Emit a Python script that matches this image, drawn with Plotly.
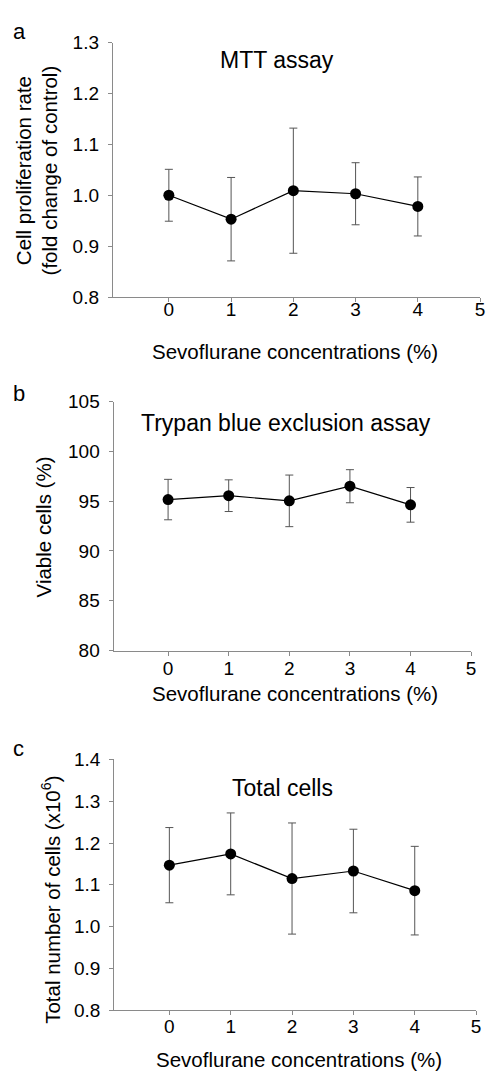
import plotly.graph_objects as go

W, H = 491, 1080

conc = [0, 1, 2, 3, 4]
x_ticks = [0, 1, 2, 3, 4, 5]

mtt_mean = [1.000, 0.953, 1.009, 1.003, 0.978]
mtt_err = [0.051, 0.082, 0.123, 0.061, 0.058]

trypan_mean = [95.16, 95.55, 95.03, 96.50, 94.63]
trypan_err = [2.03, 1.59, 2.59, 1.66, 1.74]

total_mean = [1.147, 1.174, 1.115, 1.133, 1.086]
total_err = [0.090, 0.098, 0.133, 0.100, 0.106]

FONT = "Liberation Sans, Arial, sans-serif"
AX_COL = "#8a8a8a"

fig = go.Figure()

series = [(mtt_mean, mtt_err, "x", "y"),
          (trypan_mean, trypan_err, "x2", "y2"),
          (total_mean, total_err, "x3", "y3")]
for mean, err, xa, ya in series:
    fig.add_trace(go.Scatter(
        x=conc, y=mean, xaxis=xa, yaxis=ya, mode="lines+markers",
        line=dict(color="black", width=1.2),
        marker=dict(color="black", size=11),
        error_y=dict(type="data", array=err, visible=True, color="#555555",
                     thickness=1, width=4),
        showlegend=False, cliponaxis=False))

def px_x(p):
    return p / W

def px_y(p):
    return 1 - p / H

def xaxis(dom, anchor, standoff):
    return dict(domain=dom, range=[-0.9, 5], tickvals=x_ticks, ticktext=[str(v) for v in x_ticks],
                showline=True, linecolor=AX_COL, linewidth=1, ticks="outside", ticklen=4,
                tickcolor=AX_COL, tickwidth=1, showgrid=False, zeroline=False, anchor=anchor,
                ticklabeloverflow="allow", ticklabelstandoff=standoff,
                tickfont=dict(size=19, color="black", family=FONT))

def yaxis(dom, rng, dtick, fmt, anchor):
    return dict(domain=dom, range=rng, dtick=dtick, tick0=rng[0], tickformat=fmt,
                showline=True, linecolor=AX_COL, linewidth=1, ticks="outside", ticklen=4,
                tickcolor=AX_COL, tickwidth=1, showgrid=False, zeroline=False, anchor=anchor,
                ticklabeloverflow="allow", ticklabelstandoff=5,
                tickfont=dict(size=19, color="black", family=FONT))

fig.update_layout(
    width=W, height=H, margin=dict(l=0, r=0, t=0, b=0),
    paper_bgcolor="white", plot_bgcolor="white",
    font=dict(family=FONT, color="black"),
    xaxis=xaxis([px_x(114), px_x(485)], "y", -9),
    yaxis=yaxis([px_y(292.7), px_y(33.3)], [0.8, 1.3], 0.1, ".1f", "x"),
    xaxis2=xaxis([px_x(114.7), px_x(476)], "y2", -3),
    yaxis2=yaxis([px_y(653.3), px_y(399.3)], [80, 105], 5, "d", "x2"),
    xaxis3=xaxis([px_x(115.3), px_x(481)], "y3", -5),
    yaxis3=yaxis([px_y(1020), px_y(764.3)], [0.8, 1.4], 0.1, ".1f", "x3"),
)

def ann(text, x, y, size, angle=0):
    fig.add_annotation(text=text, x=px_x(x), y=px_y(y), xref="paper", yref="paper",
                       xanchor="center", yanchor="middle", showarrow=False,
                       textangle=angle, font=dict(size=size, color="black", family=FONT))

# panel letters
ann("a", 19.2, 22.4, 22)
ann("b", 19.2, 390.7, 22)
ann("c", 18.7, 753.1, 22)

# in-plot titles
ann("MTT assay", 280, 51.3, 23)
ann("Trypan blue exclusion assay", 288.8, 421.3, 23)
ann("Total cells", 285, 793.5, 23)

# x axis titles
ann("Sevoflurane concentrations (%)", 298.3, 348.3, 20.5)
ann("Sevoflurane concentrations (%)", 298.3, 697.5, 20.5)
ann("Sevoflurane concentrations (%)", 301.7, 1070.8, 20.5)

# y axis titles
ann("Cell proliferation rate<br>(fold change of control)", 37, 164, 20.5, -90)
ann("Viable cells (%)", 44.1, 527, 20.5, -90)
ann("Total number of cells (x10<sup>6</sup>)", 52, 907, 20.5, -90)

fig.write_html("out.html", config=dict(displayModeBar=False),
               post_script="document.body.style.margin='0';document.body.style.overflow='hidden';")
